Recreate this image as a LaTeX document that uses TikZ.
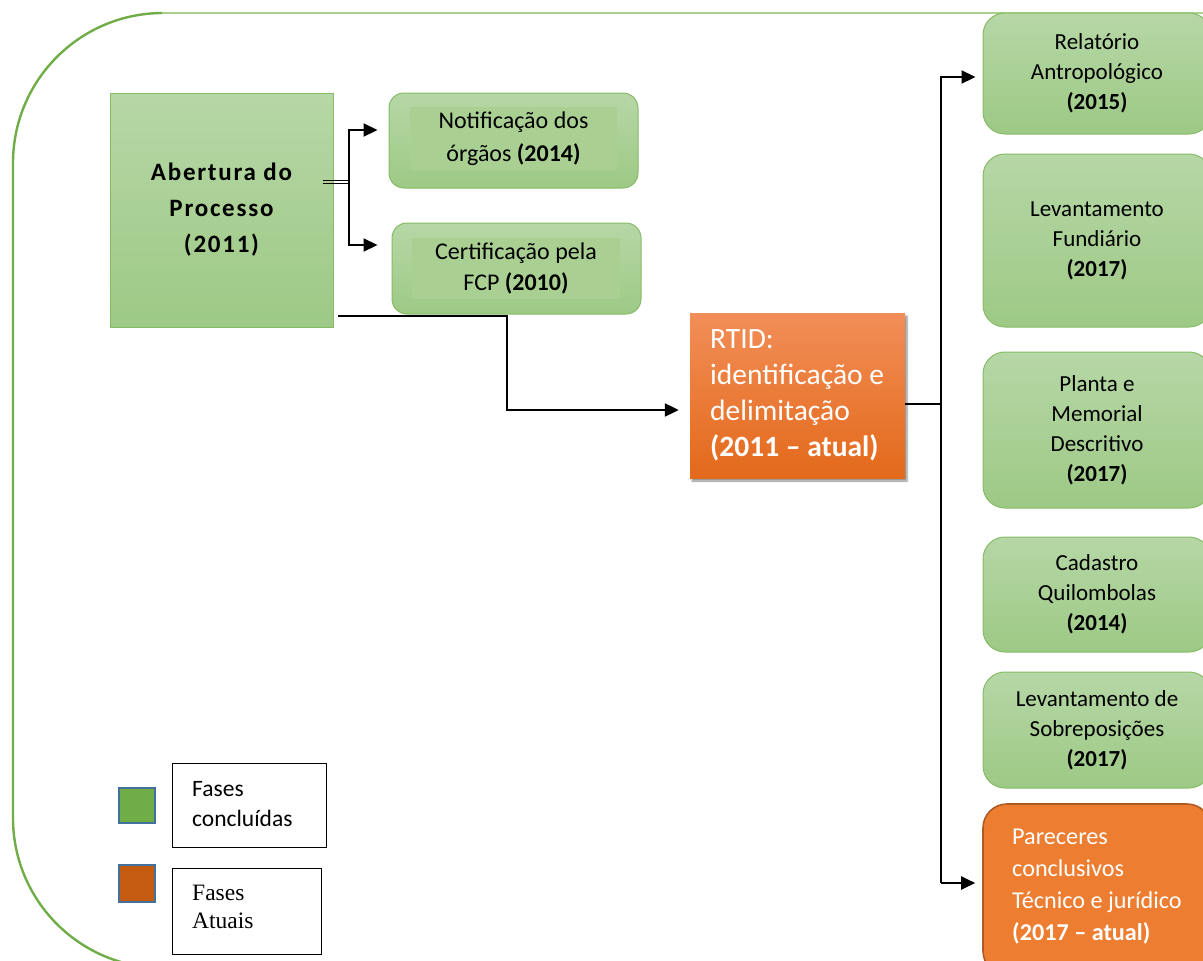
\documentclass[tikz,border=0pt]{standalone}
\usepackage{fontspec}
\setmainfont{Carlito}
\newfontfamily\timesf{Liberation Serif}
\usetikzlibrary{arrows.meta,calc,shadows.blur}
\definecolor{gtop}{HTML}{B6D7A6}
\definecolor{gbot}{HTML}{9DC985}
\definecolor{gmid}{HTML}{A9D092}
\definecolor{gborder}{HTML}{86BC65}
\definecolor{frameg}{HTML}{70AD47}
\definecolor{framelt}{HTML}{A9D18E}
\definecolor{otop}{HTML}{F28E58}
\definecolor{obot}{HTML}{E3691A}
\definecolor{ofill}{HTML}{ED7D31}
\definecolor{oborder}{HTML}{AE5A21}
\definecolor{legblue}{HTML}{41719C}
\definecolor{leggreen}{HTML}{70AD47}
\definecolor{legorange}{HTML}{C55A11}
\tikzset{
  gbox/.style={draw=gborder, line width=1pt, rounded corners=15pt, top color=gtop, bottom color=gbot, align=center, text=black, inner sep=0pt},
  rbox/.style={gbox, rounded corners=22pt, minimum width=228pt, font=\fontsize{23}{30}\selectfont},
  inbox/.style={fill=gmid, draw=none, inner sep=0pt, align=center, font=\fontsize{24}{32.5}\selectfont},
  conn/.style={line width=2.2pt, draw=black},
  tip/.style={-{Triangle[length=14pt,width=13pt]}},
  legbox/.style={draw=black, line width=1pt, inner sep=0pt},
  legsq/.style={draw=legblue, line width=2pt, minimum width=36pt, minimum height=35pt, inner sep=0pt}
}
\begin{document}
\begin{tikzpicture}[x=1pt,y=-1pt]
\useasboundingbox (0,0) rectangle (1203,961);
\clip (0,0) rectangle (1203,961);
% outer frame
\draw[frameg, line width=2.4pt, rounded corners=150pt] (163,13) -- (13,13) -- (13,968) -- (163,968);
\draw[framelt, line width=1.3pt] (162,13) -- (1210,13);

% Abertura
\node[gbox, rounded corners=0pt, minimum width=223pt, minimum height=234pt,
  font=\fontsize{25}{36}\selectfont\bfseries\addfontfeature{LetterSpace=7}] (ab) at (221.5,210) {Abertura do\\Processo\\(2011)};

% Notificacao
\node[gbox, minimum width=249pt, minimum height=95pt] (not) at (513.5,140.5) {};
\node[inbox, minimum width=207pt, minimum height=63pt] (notin) at (513.5,138.5) {Notificação dos\\órgãos \textbf{(2014)}};
% Certificacao
\node[gbox, minimum width=249pt, minimum height=91pt] (cer) at (516.5,268.5) {};
\node[inbox, minimum width=208pt, minimum height=61pt, font=\fontsize{24}{31}\selectfont] (cerin) at (516,268.5) {Certificação pela\\FCP \textbf{(2010)}};

% RTID
\node[draw=none, top color=otop, bottom color=obot, minimum width=215pt, minimum height=165pt, inner sep=0pt,
  blur shadow={shadow xshift=2pt, shadow yshift=-3pt, shadow blur steps=6, shadow opacity=45}] (rtid) at (797.5,395.5) {};
\node[anchor=west, align=left, text=white, inner sep=0pt, font=\fontsize{29.5}{36}\selectfont] (rtidtxt) at (710,395) {RTID:\\identificação e\\delimitação\\\textbf{(2011 – atual)}};

% right column
\node[rbox, minimum height=121pt] (r1) at (1097,73.5) {Relatório\\Antropológico\\\textbf{(2015)}};
\node[rbox, minimum height=173pt] (r2) at (1097,240.5) {Levantamento\\Fundiário\\\textbf{(2017)}};
\node[rbox, minimum height=156pt] (r3) at (1097,430) {Planta e\\Memorial\\Descritivo\\\textbf{(2017)}};
\node[rbox, minimum height=115pt] (r4) at (1097,594.5) {Cadastro\\Quilombolas\\\textbf{(2014)}};
\node[rbox, minimum height=116pt] (r5) at (1097,730) {Levantamento de\\Sobreposições\\\textbf{(2017)}};
\node[draw=oborder, line width=1.6pt, fill=ofill, rounded corners=24pt, minimum width=228pt, minimum height=171pt, inner sep=0pt] (r6) at (1097,889.5) {};
\node[anchor=west, align=left, text=white, inner sep=0pt, font=\fontsize{24.2}{32}\selectfont] (r6txt) at (1012,887) {Pareceres\\conclusivos\\Técnico e jurídico\\\textbf{(2017 – atual)}};

% connectors from Abertura
\coordinate (j1) at (349,182);
\draw[line width=1.5pt] ($(j1 -| ab.east)+(-11,-1.5)$) -- ($(j1)+(0,-1.5)$);
\draw[line width=1.5pt] ($(j1 -| ab.east)+(-11,1.5)$) -- ($(j1)+(0,1.5)$);
\draw[conn, tip, shorten >=11pt] (j1) |- ($(not.west)+(0,-10.5)$);
\draw[conn, tip, shorten >=14pt] (j1) |- ($(cer.west)+(0,-23.5)$);
\coordinate (j2) at (507,316);
\draw[conn, tip, shorten >=11pt] ($(j2 -| ab.east)+(4,0)$) -- (j2) |- ($(rtid.west)+(0,14.5)$);

% RTID to right column
\coordinate (j3) at (941,404);
\draw[conn] (j3 -| rtid.east) -- (j3);
\draw[conn] (941,76) -- (941,883);
\draw[conn, tip, shorten >=7pt] (941,77) -- ($(r1.west)+(0,3.5)$);
\draw[conn, tip, shorten >=7pt] (941,883) -- ($(r6.west)+(0,-6.5)$);

% legend
\node[legsq, fill=leggreen] (lg1) at (136.5,805.5) {};
\node[legbox, minimum width=154pt, minimum height=84pt] (lb1) at (249,805) {};
\node[anchor=west, align=left, inner sep=0pt, font=\fontsize{23.5}{30}\selectfont] (lt1) at (192,804) {Fases\\concluídas};
\node[legsq, fill=legorange, minimum height=37pt] (lg2) at (136.5,883.5) {};
\node[legbox, minimum width=149pt, minimum height=86pt] (lb2) at (246.5,911) {};
\node[anchor=west, align=left, inner sep=0pt, font=\timesf\fontsize{23.5}{28}\selectfont] (lt2) at (192,907) {Fases\\Atuais};
\end{tikzpicture}
\end{document}
